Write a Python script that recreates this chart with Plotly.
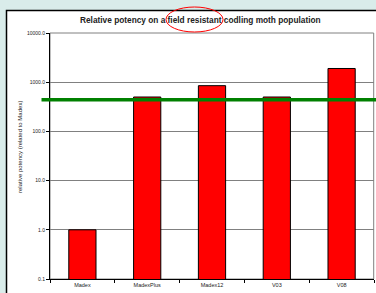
import plotly.graph_objects as go

categories = ["Madex", "MadexPlus", "Madex12", "V03", "V08"]
potency = [1.0, 500, 850, 500, 1900]
reference_level = 440
tick_vals = [0.1, 1, 10, 100, 1000, 10000]
tick_text = ["0.1", "1.0", "10.0", "100.0", "1000.0", "10000.0"]

fig = go.Figure()
fig.add_trace(go.Bar(
    x=categories, y=potency, width=0.42,
    marker=dict(color="#FF0000", line=dict(color="black", width=1)),
))

W, H = 376, 293
L, R, T, B = 50, 2, 33, 14
pw, ph = W - L - R, H - T - B

def px_x(x):
    return (x - L) / pw

def px_y(y):
    return (H - B - y) / ph

shapes = [
    # white chart box
    dict(type="rect", xref="paper", yref="paper", layer="below",
         x0=px_x(6.5), x1=px_x(390), y0=px_y(310), y1=px_y(10.5),
         fillcolor="white", line=dict(color="black", width=1.5)),
    # plot area border (gray)
    dict(type="rect", xref="paper", yref="paper", layer="below",
         x0=0, x1=px_x(373.7), y0=0, y1=1,
         fillcolor="rgba(0,0,0,0)", line=dict(color="#808080", width=1)),
    # green reference line
    dict(type="line", xref="paper", yref="y", layer="above",
         x0=px_x(41.5), x1=px_x(376), y0=reference_level, y1=reference_level,
         line=dict(color="#008000", width=3.5)),
    # red ellipse around "field resistant"
    dict(type="circle", xref="paper", yref="paper", layer="above",
         x0=px_x(166), x1=px_x(223), y0=px_y(32), y1=px_y(7),
         line=dict(color="#FF0000", width=1)),
]

fig.update_layout(
    width=W, height=H,
    margin=dict(l=L, r=R, t=T, b=B),
    paper_bgcolor="#d9ecea",
    plot_bgcolor="white",
    showlegend=False,
    bargap=0.58,
    shapes=shapes,
    font=dict(family="Liberation Sans, Arial", color="black"),
    annotations=[
        dict(text="<b>Relative potency on a field resistant codling moth population</b>",
             xref="paper", yref="paper", x=px_x(200), y=px_y(20),
             showarrow=False, font=dict(size=8.3, color="#222"),
             xanchor="center", yanchor="middle"),
        dict(text="relative potency (related to Madex)",
             xref="paper", yref="paper", x=px_x(20), y=px_y(147),
             showarrow=False, textangle=-90, font=dict(size=6, color="#222"),
             xanchor="center", yanchor="middle"),
    ],
)

fig.update_yaxes(
    type="log", range=[-1, 4],
    tickvals=tick_vals, ticktext=tick_text,
    tickfont=dict(size=5, color="#222"),
    ticks="outside", ticklen=3, tickcolor="black",
    showgrid=True, gridcolor="#808080", gridwidth=1,
    showline=True, linecolor="black", linewidth=1,
    zeroline=False,
)
fig.update_xaxes(
    tickfont=dict(size=5.5, color="#222"),
    ticks="outside", ticklen=3, tickcolor="black", tickson="boundaries",
    showline=True, linecolor="black", linewidth=1,
    showgrid=False,
)

fig.write_html(
    "out.html",
    config={"displayModeBar": False},
    post_script="document.body.style.margin='0';document.body.style.overflow='hidden';",
)
